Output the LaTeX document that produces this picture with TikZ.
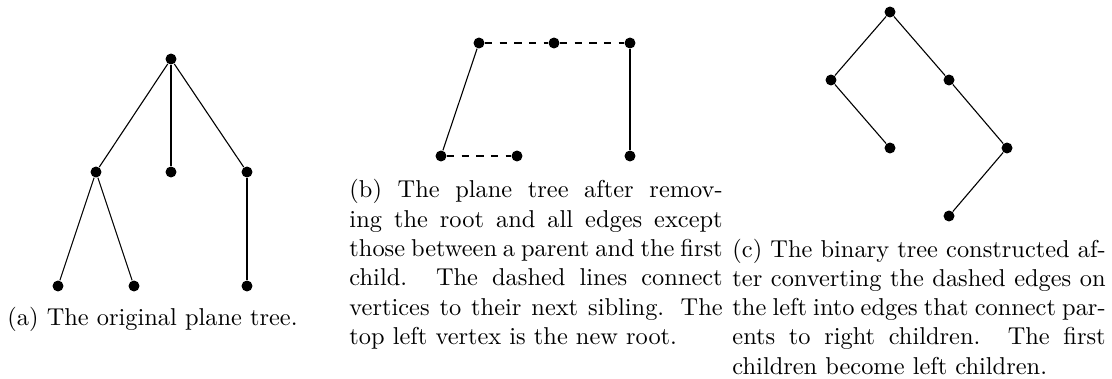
\documentclass[tikz,border=0pt]{standalone}
\begin{document}
\begin{tikzpicture}[x=0.41pt,y=-0.41pt,
  vtx/.style={circle,fill=black,inner sep=0pt,minimum size=4.5pt},
  edge/.style={line width=0.45pt},
  sib/.style={line width=0.45pt,dashed},
  captext/.style={anchor=base west,inner sep=0pt}]
\useasboundingbox (0,0) rectangle (1112,379);

% (a) original plane tree
\node[vtx] (ar)  at (171,59) {};
\node[vtx] (ac1) at (96,172) {};
\node[vtx] (ac2) at (171,172) {};
\node[vtx] (ac3) at (247,172) {};
\node[vtx] (al1) at (58,286) {};
\node[vtx] (al2) at (134,286) {};
\node[vtx] (al3) at (247,286) {};
\draw[edge] (ar) -- (ac1);
\draw[edge] (ar) -- (ac2);
\draw[edge] (ar) -- (ac3);
\draw[edge] (ac1) -- (al1);
\draw[edge] (ac1) -- (al2);
\draw[edge] (ac3) -- (al3);
\node[captext] (capa) at (7,325) {(a) The original plane tree.};

% (b) first-child / next-sibling form
\node[vtx] (bt1) at (479,43) {};
\node[vtx] (bt2) at (554,43) {};
\node[vtx] (bt3) at (630,43) {};
\node[vtx] (bb1) at (441,156) {};
\node[vtx] (bb2) at (517,156) {};
\node[vtx] (bb3) at (630,156) {};
\draw[edge] (bt1) -- (bb1);
\draw[edge] (bt3) -- (bb3);
\draw[sib] (bt1) -- (bt2);
\draw[sib] (bt2) -- (bt3);
\draw[sib] (bb1) -- (bb2);
\node[captext] (capb) at (349,198) {\parbox[t]{153pt}{(b) The plane tree after remov-\linebreak
ing the root and all edges except\linebreak
those between a parent and the first\linebreak
child. The dashed lines connect\linebreak
vertices to their next sibling. The\linebreak
top left vertex is the new root.}};

% (c) binary tree
\node[vtx] (cr)   at (890,12) {};
\node[vtx] (cl)   at (831,80) {};
\node[vtx] (crt)  at (949,80) {};
\node[vtx] (clr)  at (890,148) {};
\node[vtx] (crr)  at (1007,148) {};
\node[vtx] (crrl) at (949,216) {};
\draw[edge] (cr) -- (cl);
\draw[edge] (cr) -- (crt);
\draw[edge] (cl) -- (clr);
\draw[edge] (crt) -- (crr);
\draw[edge] (crr) -- (crrl);
\node[captext] (capc) at (732,257) {\parbox[t]{153pt}{(c) The binary tree constructed af-\linebreak
ter converting the dashed edges on\linebreak
the left into edges that connect par-\linebreak
ents to right children. The first\linebreak
children become left children.}};
\end{tikzpicture}
\end{document}
